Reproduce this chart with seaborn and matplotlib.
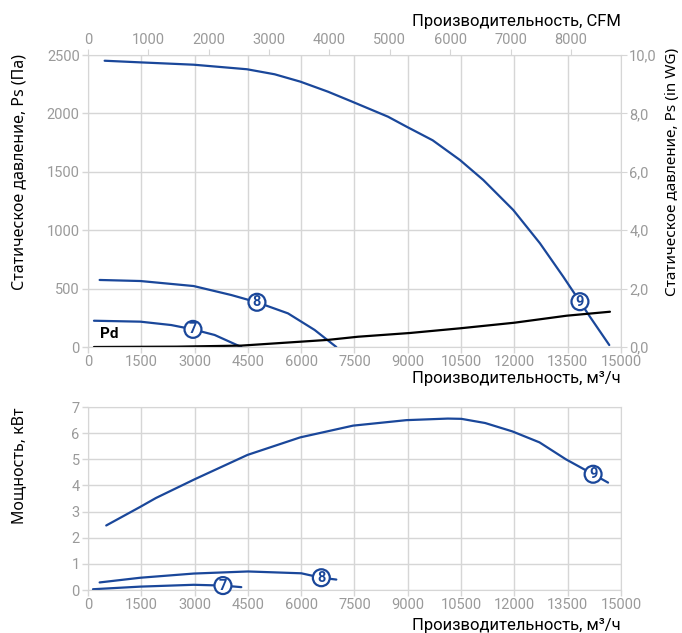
import numpy as np
import pandas as pd
import seaborn as sns
import matplotlib.pyplot as plt

# Кривые давления (м3/ч, Па)
q9 = [469, 1473, 2974, 4475, 5253, 5976, 6754, 7400, 8443, 8969, 9700, 10469, 11125, 11969, 12720, 13376, 13846, 14127, 14671]
p9 = [2451, 2437, 2417, 2378, 2335, 2272, 2186, 2105, 1972, 1886, 1770, 1601, 1430, 1173, 888, 602, 388, 259, 17]
q8 = [328, 1473, 2974, 4034, 4756, 5629, 6379, 6989]
p8 = [574, 565, 522, 445, 383, 288, 146, 0]
q7 = [169, 1473, 2345, 2955, 3565, 4315]
p7 = [225, 217, 188, 151, 103, 0]
q_pd = [169, 2500, 4315, 6754, 7599, 9061, 10469, 12000, 13470, 14690]
p_pd = [0, 3, 12, 61, 88, 120, 160, 208, 268, 302]

# Кривые мощности (м3/ч, кВт)
qn9 = [514, 1469, 1911, 2990, 4490, 5971, 7461, 8961, 10127, 10509, 11178, 11942, 12707, 13452, 14216, 14637]
n9 = [2.47, 3.18, 3.52, 4.23, 5.17, 5.84, 6.29, 6.50, 6.56, 6.55, 6.39, 6.07, 5.65, 5.00, 4.43, 4.11]
qn8 = [328, 1473, 2974, 4503, 6004, 6567, 6989]
n8 = [0.29, 0.47, 0.63, 0.71, 0.64, 0.47, 0.40]
qn7 = [141, 1473, 2974, 3799, 4315]
n7 = [0.03, 0.13, 0.20, 0.17, 0.11]

# Подписи кривых
lbl_top = {'9': (13846, 388), '8': (4756, 383), '7': (2955, 151)}
lbl_bot = {'9': (14216, 4.43), '8': (6567, 0.47), '7': (3799, 0.17)}

x_ticks = [0, 1500, 3000, 4500, 6000, 7500, 9000, 10500, 12000, 13500, 15000]
cfm_ticks = [0, 1000, 2000, 3000, 4000, 5000, 6000, 7000, 8000]
blue = '#1a479a'
grey = '#9a9a9a'
grid = '#d6d6d6'
lab_font = ['Noto Sans', 'DejaVu Sans']

sns.set_style('white')
plt.rcParams['font.family'] = ['Roboto', 'DejaVu Sans']

fig = plt.figure(figsize=(6.82, 6.33), dpi=100)
ax1 = fig.add_axes([0.129, 0.4518, 0.7815, 0.4613])
ax2 = fig.add_axes([0.129, 0.0679, 0.7815, 0.289])


def style(ax, ymax):
    ax.set_xlim(0, 15000)
    ax.set_ylim(0, ymax)
    ax.set_xticks(x_ticks)
    ax.grid(True, color=grid, lw=1)
    for s in ax.spines.values():
        s.set_color(grid)
    ax.tick_params(axis='both', colors=grey, labelsize=10.5, length=4, width=1,
                   direction='out', bottom=True, left=True, pad=2)
    ax.tick_params(axis='both', color=grid)


def put_label(ax, txt, xy):
    ax.text(xy[0], xy[1], txt, ha='center', va='center', fontsize=10.5, color=blue,
            fontweight='bold', zorder=5,
            bbox=dict(boxstyle='circle,pad=0.1', fc='white', ec=blue, lw=1.6))


# верхний график
sns.lineplot(x=q9, y=p9, ax=ax1, color=blue, lw=1.6)
sns.lineplot(x=q8, y=p8, ax=ax1, color=blue, lw=1.6)
sns.lineplot(x=q7, y=p7, ax=ax1, color=blue, lw=1.6)
sns.lineplot(x=q_pd, y=p_pd, ax=ax1, color='black', lw=1.6)
style(ax1, 2500)
ax1.set_yticks([0, 500, 1000, 1500, 2000, 2500])
for k, v in lbl_top.items():
    put_label(ax1, k, v)
ax1.text(330, 75, 'Pd', fontsize=11, fontweight='bold', color='black')
ax1.set_ylabel('Статическое давление, Ps (Па)', fontsize=11.5, color='black', family=lab_font)
ax1.yaxis.set_label_coords(-0.114, 0.6)
ax1.set_xlabel('Производительность, м³/ч', fontsize=12, color='black', loc='right', labelpad=1)

axr = ax1.twinx()
axr.set_ylim(0, 10)
axr.set_yticks([0, 2, 4, 6, 8, 10])
axr.set_yticklabels(['0,0', '2,0', '4,0', '6,0', '8,0', '10,0'])
axr.tick_params(axis='y', colors=grey, labelsize=10.5, length=4, pad=2)
axr.tick_params(axis='y', color=grid)
for s in axr.spines.values():
    s.set_visible(False)
axr.set_ylabel('Статическое давление, Ps (in WG)', fontsize=11, color='black', family=lab_font)
axr.yaxis.set_label_coords(1.083, 0.6)

axt = ax1.twiny()
axt.set_xlim(0, 15000 / 1.699)
axt.set_xticks(cfm_ticks)
axt.tick_params(axis='x', colors=grey, labelsize=10.5, length=4, pad=2)
axt.tick_params(axis='x', color=grid)
for s in axt.spines.values():
    s.set_visible(False)
axt.set_xlabel('Производительность, CFM', fontsize=12, color='black', loc='right', labelpad=5)

# нижний график
sns.lineplot(x=qn9, y=n9, ax=ax2, color=blue, lw=1.6)
sns.lineplot(x=qn8, y=n8, ax=ax2, color=blue, lw=1.6)
sns.lineplot(x=qn7, y=n7, ax=ax2, color=blue, lw=1.6)
style(ax2, 7)
ax2.set_yticks(range(0, 8))
for k, v in lbl_bot.items():
    put_label(ax2, k, v)
ax2.set_ylabel('Мощность, кВт', fontsize=11.5, color='black', family=lab_font)
ax2.yaxis.set_label_coords(-0.114, 0.68)
ax2.set_xlabel('Производительность, м³/ч', fontsize=12, color='black', loc='right', labelpad=4)

fig.savefig('out.png', dpi=100)
